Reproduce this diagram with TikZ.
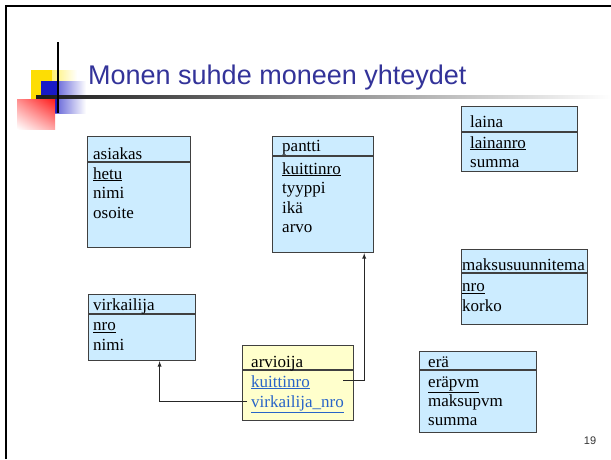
\documentclass[tikz,border=0pt]{standalone}
\usepackage{fontspec}
\setmainfont{Liberation Serif}
\newfontfamily\slidefont{Liberation Sans}
\usepackage{tikz}
\usetikzlibrary{shadings}

\definecolor{boxblue}{RGB}{204,236,255}
\definecolor{boxyellow}{RGB}{255,255,204}
\definecolor{linkblue}{RGB}{40,100,200}
\definecolor{titleblue}{RGB}{51,51,153}

\tikzset{
  tbl/.style={draw=black!75, line width=1.2pt, fill=boxblue, anchor=north west, inner sep=0pt},
  fld/.style={anchor=base west, inner sep=0pt, font=\fontsize{17}{19}\selectfont},
  lnk/.style={fld, text=linkblue},
  conn/.style={line width=0.9pt, black!85}
}

\begin{document}
\begin{tikzpicture}[x=1pt,y=-1pt]
\useasboundingbox (0,0) rectangle (611,459);
% slide frame and title decoration
\draw[line width=2pt] (6,459) -- (6,6) -- (611,6);
\shade[left color=yellow!80!orange, right color=white] (31,70) rectangle (77,100);
\fill[yellow!80!orange] (31,70) rectangle (52,100);
\shade[left color=blue!75!black!90, right color=white] (41,81) rectangle (86,113);
\fill[blue!75!black!90] (41,81) rectangle (58,113);
\shade[upper right=red!90, upper left=red!45, lower right=red!35, lower left=white] (17,99) rectangle (55,129);
\shade[left color=black!90, right color=white] (36,95.8) rectangle (611,98.4);
\draw[line width=2pt] (58,42) -- (58,113);
\node[anchor=base west, inner sep=0pt, text=titleblue, font=\slidefont\fontsize{27}{30}\selectfont] (title) at (88,84) {Monen suhde moneen yhteydet};

% asiakas
\node[tbl, minimum width=103pt, minimum height=111pt] (asiakas) at (87,136) {};
\draw[tbl] ([yshift=-26pt]asiakas.north west) -- ([yshift=-26pt]asiakas.north east);
\node[fld] (asiakash) at (93,159) {asiakas};
\foreach \f [count=\i from 0] in {\underline{hetu},nimi,osoite}
  \node[fld] at (93,{179+19.5*\i}) {\f};

% pantti
\node[tbl, minimum width=101pt, minimum height=116pt] (pantti) at (272,136) {};
\draw[tbl] ([yshift=-20pt]pantti.north west) -- ([yshift=-20pt]pantti.north east);
\node[fld] (panttih) at (282,151) {pantti};
\foreach \f [count=\i from 0] in {\underline{kuittinro},tyyppi,ikä,arvo}
  \node[fld] at (282,{174+19.5*\i}) {\f};

% virkailija
\node[tbl, minimum width=107pt, minimum height=66pt] (virkailija) at (88,294) {};
\draw[tbl] ([yshift=-20pt]virkailija.north west) -- ([yshift=-20pt]virkailija.north east);
\node[fld] (virkailijah) at (93,310.5) {virkailija};
\foreach \f [count=\i from 0] in {\underline{nro},nimi}
  \node[fld] at (93,{330.5+20*\i}) {\f};

% arvioija
\node[tbl, fill=boxyellow, minimum width=111pt, minimum height=75pt] (arvioija) at (242,345) {};
\draw[tbl] ([yshift=-25pt]arvioija.north west) -- ([yshift=-25pt]arvioija.north east);
\node[fld] (arvioijah) at (251,367) {arvioija};
\node[lnk] (arvk) at (251,387) {\underline{kuittinro}};
\node[lnk] (arvv) at (251,407.5) {\underline{virkailija\_nro}};

% laina
\node[tbl, minimum width=116pt, minimum height=65pt] (laina) at (461,106) {};
\draw[tbl] ([yshift=-26pt]laina.north west) -- ([yshift=-26pt]laina.north east);
\node[fld] (lainah) at (470,127) {laina};
\foreach \f [count=\i from 0] in {\underline{lainanro},summa}
  \node[fld] at (470,{148+19*\i}) {\f};

% maksusuunnitema
\node[tbl, minimum width=126pt, minimum height=75pt] (maksu) at (461,249) {};
\draw[tbl] ([yshift=-24pt]maksu.north west) -- ([yshift=-24pt]maksu.north east);
\node[fld] (maksuh) at (462,270.5) {maksusuunnitema};
\foreach \f [count=\i from 0] in {\underline{nro},korko}
  \node[fld] at (462,{291.5+19.5*\i}) {\f};

% erä
\node[tbl, minimum width=117pt, minimum height=81pt] (era) at (419,351) {};
\draw[tbl] ([yshift=-19pt]era.north west) -- ([yshift=-19pt]era.north east);
\node[fld] (erah) at (428,367) {erä};
\foreach \f [count=\i from 0] in {\underline{eräpvm},maksupvm,summa}
  \node[fld] at (428,{387+19.3*\i}) {\f};

% viittaukset
\coordinate (kend) at (343,380);
\draw[conn,-latex] (kend) -| ([xshift=-10pt]pantti.south east);
\draw[conn,-latex] ([xshift=-4pt,yshift=6.5pt]arvv.base west) -| ([xshift=17.5pt]virkailija.south);

\node[font=\slidefont\fontsize{11}{12}\selectfont, text=black!80] (sivu) at (590,441) {19};
\end{tikzpicture}
\end{document}
